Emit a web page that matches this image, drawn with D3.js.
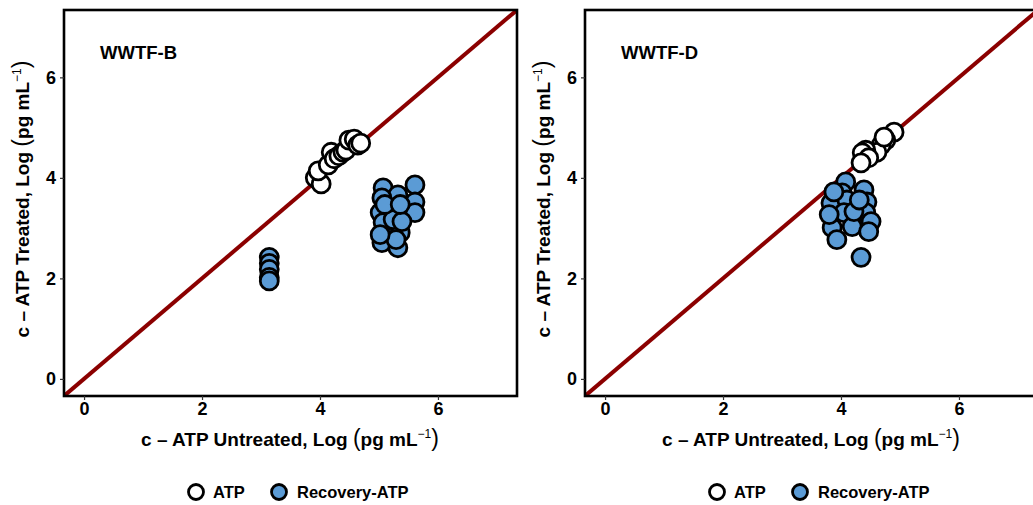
<!DOCTYPE html>
<html>
<head>
<meta charset="utf-8">
<script src="https://cdn.jsdelivr.net/npm/d3@7"></script>
<style>
  html, body { margin: 0; padding: 0; background: #fff; }
  svg { display: block; font-family: "Liberation Sans", Arial, sans-serif; }
</style>
</head>
<body>
<div id="chart"></div>
<script>
// panel names
const panels = ['WWTF-B', 'WWTF-D'];
const ticks = [0, 2, 4, 6];

// [untreated, treated] pairs
const atpB = [
  [3.92, 4.00], [4.02, 3.88], [3.97, 4.14], [4.14, 4.26], [4.19, 4.51],
  [4.24, 4.38], [4.32, 4.44], [4.39, 4.51], [4.44, 4.55], [4.49, 4.75],
  [4.58, 4.77], [4.64, 4.65], [4.69, 4.69]
];
const recB = [
  [3.14, 2.42], [3.14, 2.30], [3.14, 2.18], [3.14, 2.02], [3.14, 1.95],
  [5.07, 3.80], [5.61, 3.86], [5.32, 3.66], [5.05, 3.60], [5.61, 3.52],
  [5.31, 3.37], [5.61, 3.31], [5.02, 3.31], [5.15, 2.97], [5.05, 2.71],
  [5.32, 2.61], [5.36, 2.91], [5.07, 3.11], [5.24, 3.17], [5.39, 3.13],
  [5.10, 3.47], [5.36, 3.47], [5.29, 2.77], [5.02, 2.87]
];
const atpD = [
  [4.90, 4.91], [4.76, 4.75], [4.68, 4.65], [4.61, 4.51], [4.42, 4.55],
  [4.36, 4.50], [4.47, 4.40], [4.34, 4.30], [4.73, 4.81]
];
const recD = [
  [4.08, 3.92], [4.02, 3.70], [3.83, 3.50], [4.10, 3.56], [4.39, 3.76],
  [4.44, 3.52], [4.05, 3.31], [4.42, 3.31], [3.85, 3.01], [3.93, 2.77],
  [4.19, 3.03], [4.51, 3.13], [4.34, 2.42], [3.80, 3.27], [4.22, 3.33],
  [3.88, 3.72], [4.31, 3.56], [4.47, 2.93]
];
const panelData = [[atpB, recB], [atpD, recD]];
const seriesNames = ['ATP', 'Recovery-ATP'];
const seriesFill = ['#ffffff', '#5b9bd5'];

const W = 1033, H = 505;
const svg = d3.select('#chart').append('svg').attr('width', W).attr('height', H);

const box = { w: 453, h: 386, top: 10 };
const offsets = [64, 585];
const domain = [-0.34, 7.34];

panels.forEach((name, i) => {
  const left = offsets[i];
  const g = svg.append('g').attr('transform', `translate(${left},${box.top})`);
  const x = d3.scaleLinear().domain(domain).range([0, box.w]);
  const y = d3.scaleLinear().domain(domain).range([box.h, 0]);

  const clipId = 'clip' + i;
  g.append('clipPath').attr('id', clipId)
    .append('rect').attr('width', box.w).attr('height', box.h);

  // 1:1 line
  g.append('line')
    .attr('clip-path', `url(#${clipId})`)
    .attr('x1', x(domain[0])).attr('y1', y(domain[0]))
    .attr('x2', x(domain[1])).attr('y2', y(domain[1]))
    .attr('stroke', '#8b0000').attr('stroke-width', 4);

  panelData[i].forEach((pts, s) => {
    g.append('g').selectAll('circle')
      .data(pts)
      .enter()
      .append('circle')
      .attr('cx', d => x(d[0]))
      .attr('cy', d => y(d[1]))
      .attr('r', 9)
      .attr('fill', seriesFill[s])
      .attr('stroke', '#000')
      .attr('stroke-width', 2.8);
  });

  g.append('rect').attr('width', box.w).attr('height', box.h)
    .attr('fill', 'none').attr('stroke', '#000').attr('stroke-width', 2.6);

  const xa = g.append('g').attr('transform', `translate(0,${box.h})`)
    .call(d3.axisBottom(x).tickValues(ticks).tickSize(4).tickPadding(2).tickFormat(d3.format('d')));
  const ya = g.append('g')
    .call(d3.axisLeft(y).tickValues(ticks).tickSize(4).tickPadding(4).tickFormat(d3.format('d')));
  [xa, ya].forEach(a => {
    a.select('.domain').remove();
    a.selectAll('.tick line').attr('stroke', '#333').attr('stroke-width', 1.2);
    a.selectAll('.tick text').attr('fill', '#000').style('font-size', '18px').style('font-weight', 'bold')
      .style('font-family', '"Liberation Sans", Arial, sans-serif');
  });

  g.append('text').attr('x', 36).attr('y', 49)
    .style('font-size', '18.5px').style('font-weight', 'bold').text(name);

  // axis titles
  const title = (sel, main) => {
    sel.style('font-size', '19px').style('font-weight', 'bold');
    sel.append('tspan').text('c \u2013 ' + main + ', Log ');
    sel.append('tspan').style('font-weight', 'normal').style('font-size', '23px').text('(');
    sel.append('tspan').text('pg mL');
    sel.append('tspan').attr('dy', -8).style('font-weight', 'normal').style('font-size', '12px').text('\u22121');
    sel.append('tspan').attr('dy', 8).style('font-weight', 'normal').style('font-size', '23px').text(')');
  };
  g.append('text').attr('x', 226).attr('y', 436).attr('text-anchor', 'middle')
    .call(t => title(t, 'ATP Untreated'));
  g.append('text').attr('transform', `translate(-35,${box.h / 2 - 4}) rotate(-90)`)
    .attr('text-anchor', 'middle')
    .call(t => title(t, 'ATP Treated'));

  // legend
  const lg = svg.append('g').attr('transform', `translate(${offsets[i] - 64},492)`);
  const items = [{ cx: 196, tx: 213 }, { cx: 279, tx: 297 }];
  items.forEach((it, s) => {
    lg.append('circle').attr('cx', it.cx).attr('cy', 0).attr('r', 7.5)
      .attr('fill', seriesFill[s]).attr('stroke', '#000').attr('stroke-width', 2.8);
    lg.append('text').attr('x', it.tx).attr('y', 6)
      .style('font-size', '16.5px').style('font-weight', 'bold').text(seriesNames[s]);
  });
});
</script>
</body>
</html>
